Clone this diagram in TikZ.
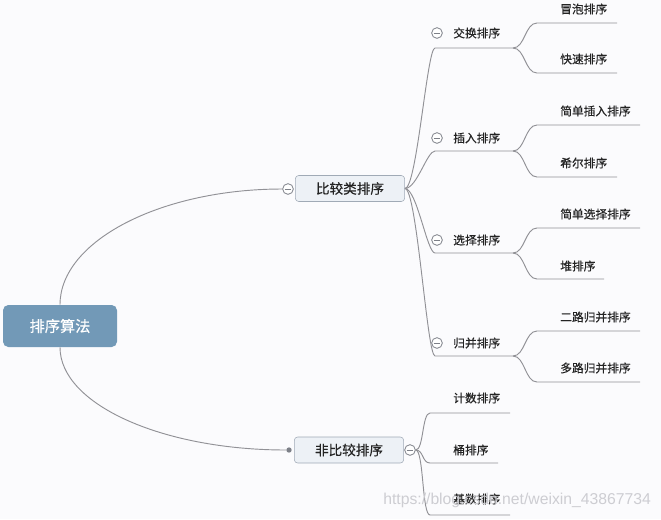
\documentclass[tikz,border=0pt]{standalone}
\usepackage{fontspec}
\setsansfont{Liberation Sans}
\newfontfamily\cjk[FakeBold=0.4]{Noto Sans CJK SC}
\usepackage{xcolor}
\definecolor{rootblue}{RGB}{114, 153, 183}
\definecolor{boxfill}{RGB}{237, 241, 246}
\definecolor{boxborder}{RGB}{160, 170, 182}
\definecolor{branchgrey}{RGB}{145, 145, 150}
\definecolor{markgrey}{RGB}{125, 128, 136}
\definecolor{textdark}{RGB}{35, 35, 35}
\definecolor{paper}{RGB}{251, 251, 253}
\definecolor{stampgrey}{RGB}{205, 205, 210}
\usetikzlibrary{calc}

\begin{document}
\begin{tikzpicture}[x=0.75pt, y=-0.75pt,
    rootbox/.style={fill=rootblue, rounded corners=4pt, text=white, inner sep=0pt,
        minimum width=85.5pt, minimum height=31.5pt, font=\cjk\fontsize{11.4}{14}\selectfont},
    catbox/.style={draw=boxborder, fill=boxfill, rounded corners=2.5pt, text=textdark, inner sep=0pt,
        minimum width=82pt, minimum height=19.5pt, font=\cjk\fontsize{10.2}{12}\selectfont},
    leaf/.style={anchor=west, inner sep=0pt, text=textdark, font=\cjk\fontsize{8.8}{10}\selectfont},
    fold/.style={circle, draw=markgrey, fill=white, inner sep=0pt, minimum size=8pt, line width=0.6pt,
        path picture={\draw[markgrey, line width=0.6pt] ([xshift=1.4pt]path picture bounding box.west) -- ([xshift=-1.4pt]path picture bounding box.east);}},
    branch/.style={draw=branchgrey, line width=0.7pt}]

    \fill[paper] (0,0) rectangle (661,519);
    \useasboundingbox (0,0) rectangle (661,519);

    % root and the two groups
    \node[rootbox] (root) at (60,326) {排序算法};
    \node[catbox] (cmp) at (350,188.5) {比较类排序};
    \node[catbox] (ncmp) at (349,450) {非比较排序};
    \node[fold] (cmp-f) at (288,189) {};
    \node[fold] (ncmp-f) at (410,450) {};
    \node[circle, fill=markgrey, inner sep=0pt, minimum size=4pt] (ncmp-d) at (289,450) {};

    \draw[branch] (root.north) .. controls +(0,-64) and +(-121,0) .. (cmp-f.west);
    \draw[branch] (root.south) .. controls +(0,57) and +(-124,0) .. (ncmp-d.west);

    % comparison sorts
    \node[fold] (jh-f) at (437,33) {};
    \node[leaf] (jh) at (453,33) {交换排序};
    \coordinate (jh-l) at (435,48);
    \coordinate (jh-r) at (513,48);
    \node[fold] (cr-f) at (437,138) {};
    \node[leaf] (cr) at (453,138) {插入排序};
    \coordinate (cr-l) at (435,151);
    \coordinate (cr-r) at (513,151);
    \node[fold] (xz-f) at (437,240) {};
    \node[leaf] (xz) at (453,240) {选择排序};
    \coordinate (xz-l) at (435,253);
    \coordinate (xz-r) at (513,253);
    \node[fold] (gb-f) at (437,343) {};
    \node[leaf] (gb) at (453,343) {归并排序};
    \coordinate (gb-l) at (435,356);
    \coordinate (gb-r) at (513,356);

    \draw[branch] (cmp.east) .. controls +(12,0) and +(-8,0) .. (jh-l) -- (jh-r);
    \draw[branch] (cmp.east) .. controls +(12,0) and +(-8,0) .. (cr-l) -- (cr-r);
    \draw[branch] (cmp.east) .. controls +(12,0) and +(-8,0) .. (xz-l) -- (xz-r);
    \draw[branch] (cmp.east) .. controls +(12,0) and +(-8,0) .. (gb-l) -- (gb-r);

    % leaves of the comparison sorts
    \node[leaf] (mp) at (560,9) {冒泡排序};
    \coordinate (mp-l) at (537,23);
    \coordinate (mp-r) at (617,23);
    \node[leaf] (ks) at (560,59) {快速排序};
    \coordinate (ks-l) at (537,73);
    \coordinate (ks-r) at (617,73);
    \node[leaf] (jdcr) at (560,111) {简单插入排序};
    \coordinate (jdcr-l) at (537,125);
    \coordinate (jdcr-r) at (640,125);
    \node[leaf] (xe) at (560,163) {希尔排序};
    \coordinate (xe-l) at (537,177);
    \coordinate (xe-r) at (617,177);
    \node[leaf] (jdxz) at (560,214) {简单选择排序};
    \coordinate (jdxz-l) at (537,228);
    \coordinate (jdxz-r) at (640,228);
    \node[leaf] (dui) at (560,266) {堆排序};
    \coordinate (dui-l) at (537,279);
    \coordinate (dui-r) at (604,279);
    \node[leaf] (elgb) at (560,317) {二路归并排序};
    \coordinate (elgb-l) at (537,331);
    \coordinate (elgb-r) at (640,331);
    \node[leaf] (dlgb) at (560,368) {多路归并排序};
    \coordinate (dlgb-l) at (537,382);
    \coordinate (dlgb-r) at (640,382);

    \draw[branch] (jh-r) .. controls +(12,0) and +(-12,0) .. (mp-l) -- (mp-r);
    \draw[branch] (jh-r) .. controls +(12,0) and +(-12,0) .. (ks-l) -- (ks-r);
    \draw[branch] (cr-r) .. controls +(12,0) and +(-12,0) .. (jdcr-l) -- (jdcr-r);
    \draw[branch] (cr-r) .. controls +(12,0) and +(-12,0) .. (xe-l) -- (xe-r);
    \draw[branch] (xz-r) .. controls +(12,0) and +(-12,0) .. (jdxz-l) -- (jdxz-r);
    \draw[branch] (xz-r) .. controls +(12,0) and +(-12,0) .. (dui-l) -- (dui-r);
    \draw[branch] (gb-r) .. controls +(12,0) and +(-12,0) .. (elgb-l) -- (elgb-r);
    \draw[branch] (gb-r) .. controls +(12,0) and +(-12,0) .. (dlgb-l) -- (dlgb-r);

    % non-comparison sorts
    \node[leaf] (js) at (453,398) {计数排序};
    \coordinate (js-l) at (430,413);
    \coordinate (js-r) at (510,413);
    \node[leaf] (tong) at (453,450) {桶排序};
    \coordinate (tong-l) at (430,463);
    \coordinate (tong-r) at (498,463);
    \node[leaf] (jishu) at (453,499) {基数排序};
    \coordinate (jishu-l) at (430,515);
    \coordinate (jishu-r) at (510,515);

    \draw[branch] (ncmp-f.east) .. controls +(8,0) and +(-8,0) .. (js-l) -- (js-r);
    \draw[branch] (ncmp-f.east) .. controls +(8,0) and +(-8,0) .. (tong-l) -- (tong-r);
    \draw[branch] (ncmp-f.east) .. controls +(8,0) and +(-8,0) .. (jishu-l) -- (jishu-r);

    \node[anchor=west, inner sep=0pt, text=stampgrey, font=\sffamily\fontsize{11.8}{14}\selectfont] (stamp) at (383,500) {https://blog.csdn.net/weixin\_43867734};
\end{tikzpicture}
\end{document}
